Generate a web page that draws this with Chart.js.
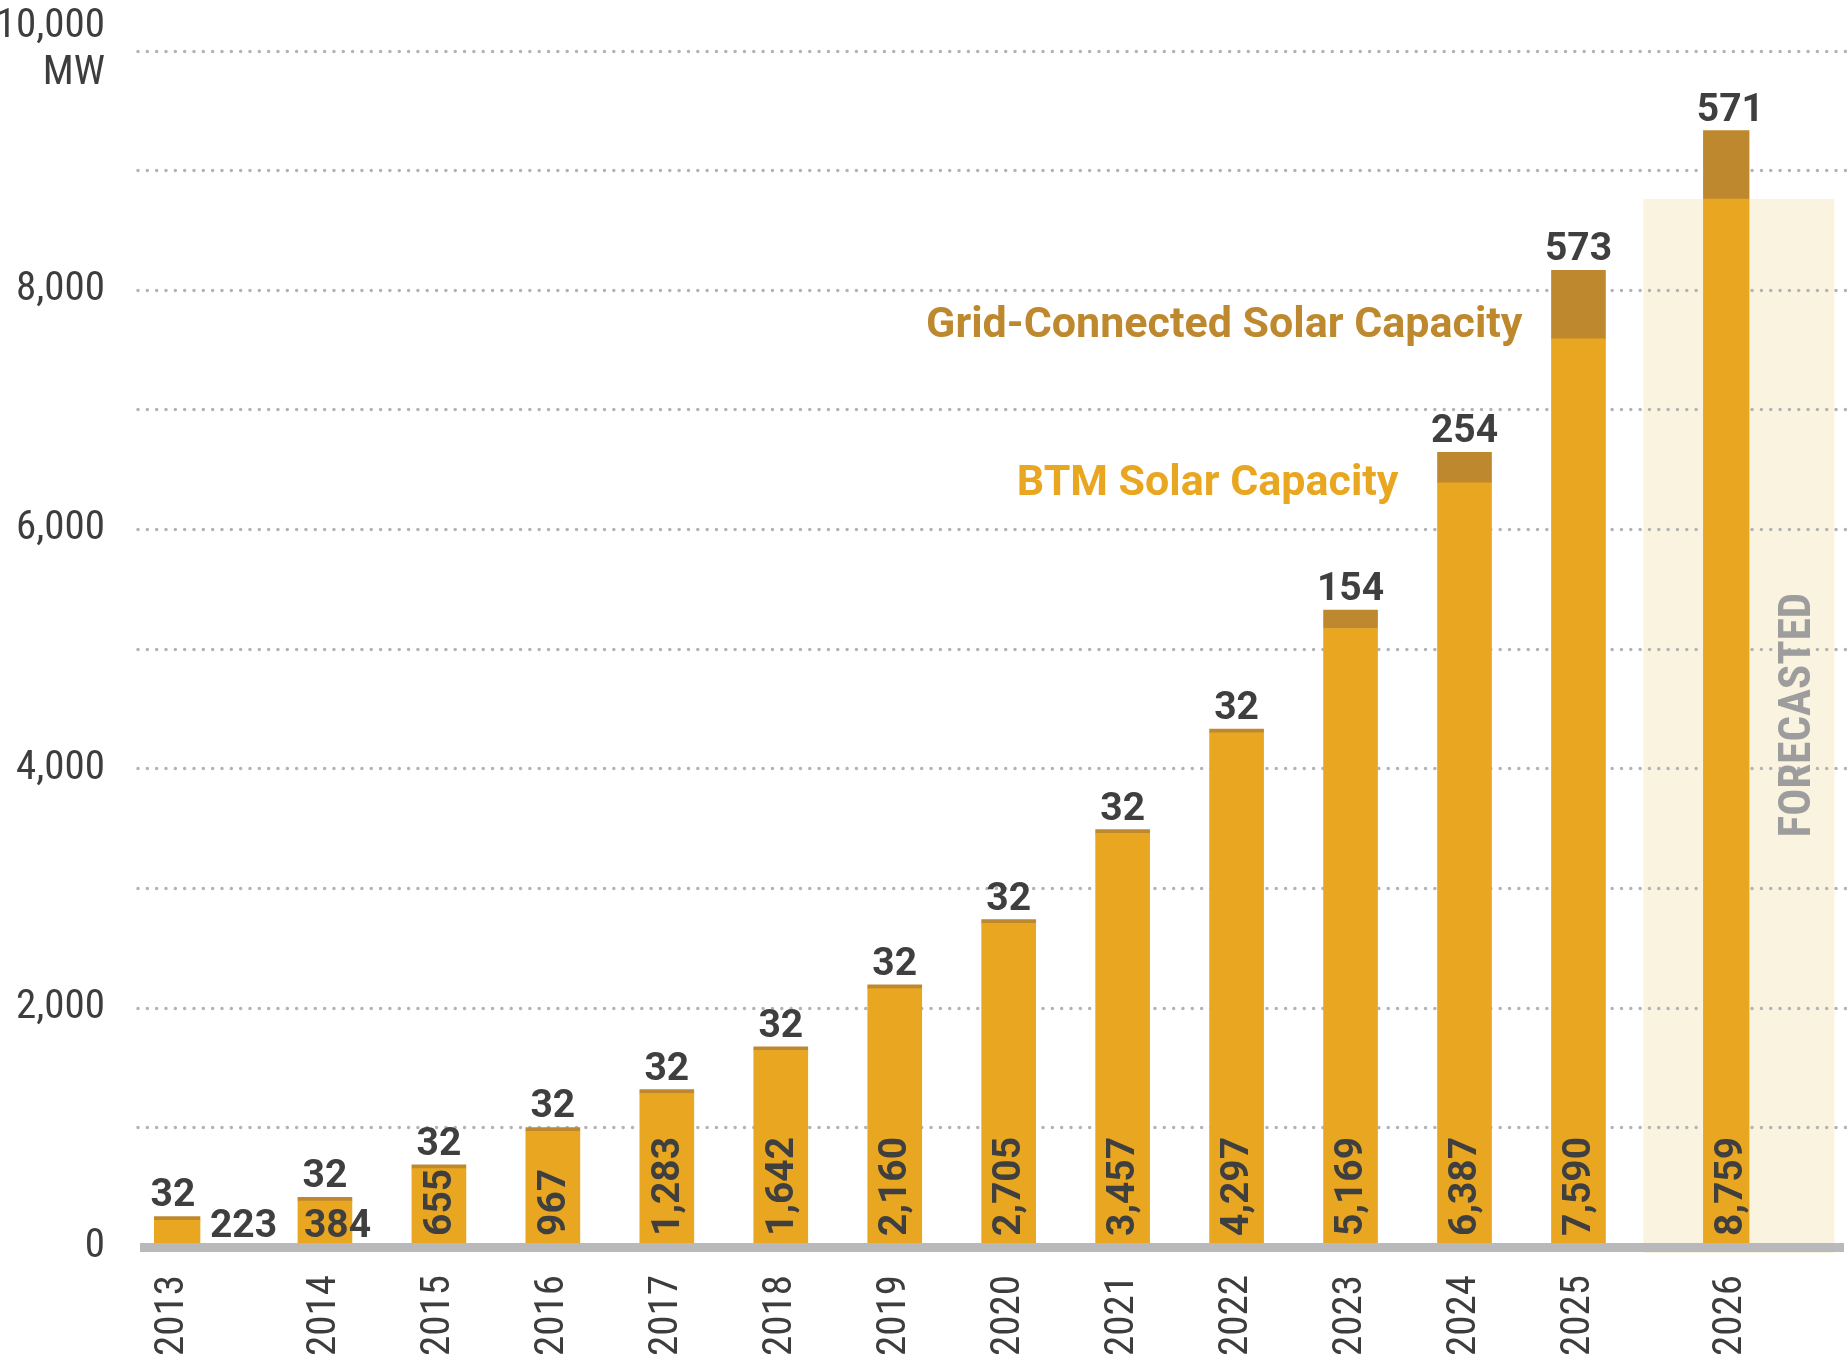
<!DOCTYPE html>
<html>
<head>
<meta charset="utf-8">
<script src="https://cdn.jsdelivr.net/npm/chart.js@4.4.1/dist/chart.umd.min.js"></script>
<style>
  html, body { margin: 0; padding: 0; background: #fff; }
  canvas { display: block; }
</style>
</head>
<body>
<canvas id="chart" width="1847" height="1355"></canvas>
<script>
// values (MW)
var years = ['2013', '2014', '2015', '2016', '2017', '2018', '2019', '2020', '2021', '2022', '2023', '2024', '2025', '2026']
var btmCapacity = [223, 384, 655, 967, 1283, 1642, 2160, 2705, 3457, 4297, 5169, 6387, 7590, 8759]
var gridCapacity = [32, 32, 32, 32, 32, 32, 32, 32, 32, 32, 154, 254, 573, 571]
var forecastYears = ['2026']
var yTicks = [0, 2000, 4000, 6000, 8000, 10000]
var gridStep = 1000
var yUnit = 'MW'

// spacing: every year sits 3 slots apart, a wider gap before these
var slotsPerYear = 3
var wideGapBefore = ['2014', '2026']

var btmColor = '#e9a721'
var gridColor = '#be892e'
var bandColor = '#faf3df'
var textColor = '#3f3f3f'
var condensed = "'Roboto Condensed', 'Liberation Sans Narrow', Roboto, sans-serif"
var bold = "Roboto, sans-serif"

function fmt(v){
  return v.toLocaleString('en-US')
}

// lay the years out on the category slots (empty slots are gaps)
var slotLabels = []
var slotBtm = []
var slotGrid = []
var yearSlot = []
years.forEach(function(yr, i){
  if(i > 0){
    var gap = slotsPerYear - 1 + (wideGapBefore.indexOf(yr) >= 0 ? 1 : 0)
    for(var k = 0; k < gap; k++){
      slotLabels.push('')
      slotBtm.push(null)
      slotGrid.push(null)
    }
  }
  yearSlot.push(slotLabels.length)
  slotLabels.push(yr)
  slotBtm.push(btmCapacity[i])
  slotGrid.push(gridCapacity[i])
})

// band, dotted grid lines under the bars
var backPlugin = {
  id: 'back',
  beforeDatasetsDraw: function(chart){
    var ctx = chart.ctx
    var y = chart.scales.y
    var y0 = y.getPixelForValue(0)
    var meta = chart.getDatasetMeta(0)
    ctx.save()
    ctx.fillStyle = bandColor
    forecastYears.forEach(function(yr){
      var i = years.indexOf(yr)
      var bar = meta.data[yearSlot[i]]
      var top = y.getPixelForValue(btmCapacity[i])
      ctx.fillRect(bar.x - 87, top, 191, y0 + 6 - top)
    })
    ctx.strokeStyle = '#b3b3b3'
    ctx.lineWidth = 3.5
    ctx.lineCap = 'round'
    ctx.setLineDash([0, 9.33])
    for(var v = gridStep; v <= y.max; v += gridStep){
      var py = Math.round(y.getPixelForValue(v)) + 0.5
      ctx.beginPath()
      ctx.moveTo(chart.chartArea.left - 16, py)
      ctx.lineTo(chart.width, py)
      ctx.stroke()
    }
    ctx.restore()
  }
}

// baseline, value labels and notes on top
var frontPlugin = {
  id: 'front',
  afterDatasetsDraw: function(chart){
    var ctx = chart.ctx
    var y = chart.scales.y
    var y0 = y.getPixelForValue(0)
    var btmMeta = chart.getDatasetMeta(0)
    var gridMeta = chart.getDatasetMeta(1)
    var left = chart.chartArea.left - 14
    ctx.save()
    ctx.fillStyle = '#b9b9bb'
    ctx.fillRect(left, y0 - 4, chart.width - 3 - left, 9)

    ctx.fillStyle = textColor
    ctx.font = '700 39px ' + bold
    years.forEach(function(yr, i){
      var gbar = gridMeta.data[yearSlot[i]]
      var bar = btmMeta.data[yearSlot[i]]
      var half = bar.width / 2
      // grid-connected value above the bar
      ctx.textAlign = 'center'
      ctx.textBaseline = 'alphabetic'
      ctx.fillText(fmt(gridCapacity[i]), gbar.x, gbar.y - 10)
      // BTM value at the bottom of the bar
      if(i == 0){
        ctx.textAlign = 'left'
        ctx.fillText(fmt(btmCapacity[i]), bar.x + half + 10, y0 - 10)
      } else if(i == 1){
        ctx.textAlign = 'left'
        ctx.fillText(fmt(btmCapacity[i]), bar.x - half + 6, y0 - 10)
      } else {
        ctx.save()
        ctx.translate(bar.x, y0 - 11)
        ctx.rotate(-Math.PI / 2)
        ctx.textAlign = 'left'
        ctx.textBaseline = 'middle'
        ctx.fillText(fmt(btmCapacity[i]), 0, 2)
        ctx.restore()
      }
    })

    // series notes
    var b24 = btmMeta.data[yearSlot[11]]
    var b25 = btmMeta.data[yearSlot[12]]
    ctx.font = '700 43px ' + bold
    ctx.textAlign = 'right'
    ctx.textBaseline = 'middle'
    ctx.fillStyle = gridColor
    ctx.fillText('Grid-Connected Solar Capacity', b25.x - b25.width / 2 - 29, y.getPixelForValue(btmCapacity[12]) - 13)
    ctx.fillStyle = btmColor
    ctx.fillText('BTM Solar Capacity', b24.x - b24.width / 2 - 39, y.getPixelForValue(btmCapacity[11]) + 1)

    // forecast note
    var fb = btmMeta.data[yearSlot[years.indexOf(forecastYears[0])]]
    ctx.save()
    ctx.translate(fb.x + 68, 715)
    ctx.rotate(-Math.PI / 2)
    ctx.textAlign = 'center'
    ctx.textBaseline = 'middle'
    ctx.fillStyle = '#9d9d9d'
    ctx.font = '700 45px ' + condensed
    ctx.fillText('FORECASTED', 0, 0)
    ctx.restore()
    ctx.restore()
  }
}

var ctx = document.getElementById('chart').getContext('2d')
var chart = new Chart(ctx, {
  type: 'bar',
  data: {
    labels: slotLabels,
    datasets: [
      {
        label: 'BTM Solar Capacity',
        data: slotBtm,
        backgroundColor: btmColor,
        barThickness: 54,
        stack: 'total'
      },
      {
        label: 'Grid-Connected Solar Capacity',
        data: slotGrid,
        backgroundColor: gridColor,
        barThickness: 54,
        stack: 'total'
      }
    ]
  },
  options: {
    responsive: false,
    animation: false,
    layout: {
      autoPadding: false,
      padding: { top: 50.5, right: 97.6, left: 0, bottom: 0 }
    },
    plugins: {
      legend: { display: false },
      tooltip: { enabled: false }
    },
    scales: {
      x: {
        stacked: true,
        offset: true,
        grid: { display: false, drawTicks: false },
        border: { display: false },
        ticks: {
          autoSkip: false,
          minRotation: 90,
          maxRotation: 90,
          padding: 28,
          color: '#3d3d3d',
          font: { family: condensed, size: 41 }
        },
        afterFit: function(scale){
          scale.height = 108
          scale.paddingLeft = 0
          scale.paddingRight = 0
        }
      },
      y: {
        stacked: true,
        min: 0,
        max: 10000,
        grid: { display: false, drawTicks: false },
        border: { display: false },
        afterBuildTicks: function(scale){
          scale.ticks = yTicks.map(function(v){ return { value: v } })
        },
        ticks: {
          padding: 49,
          color: '#3d3d3d',
          font: { family: condensed, size: 41, lineHeight: 1.15 },
          callback: function(v){
            if(v == yTicks[yTicks.length - 1]) return [fmt(v), yUnit]
            return fmt(v)
          }
        },
        afterFit: function(scale){
          scale.width = 154
          scale.paddingTop = 0
          scale.paddingBottom = 0
        }
      }
    }
  },
  plugins: [backPlugin, frontPlugin]
})
</script>
</body>
</html>
